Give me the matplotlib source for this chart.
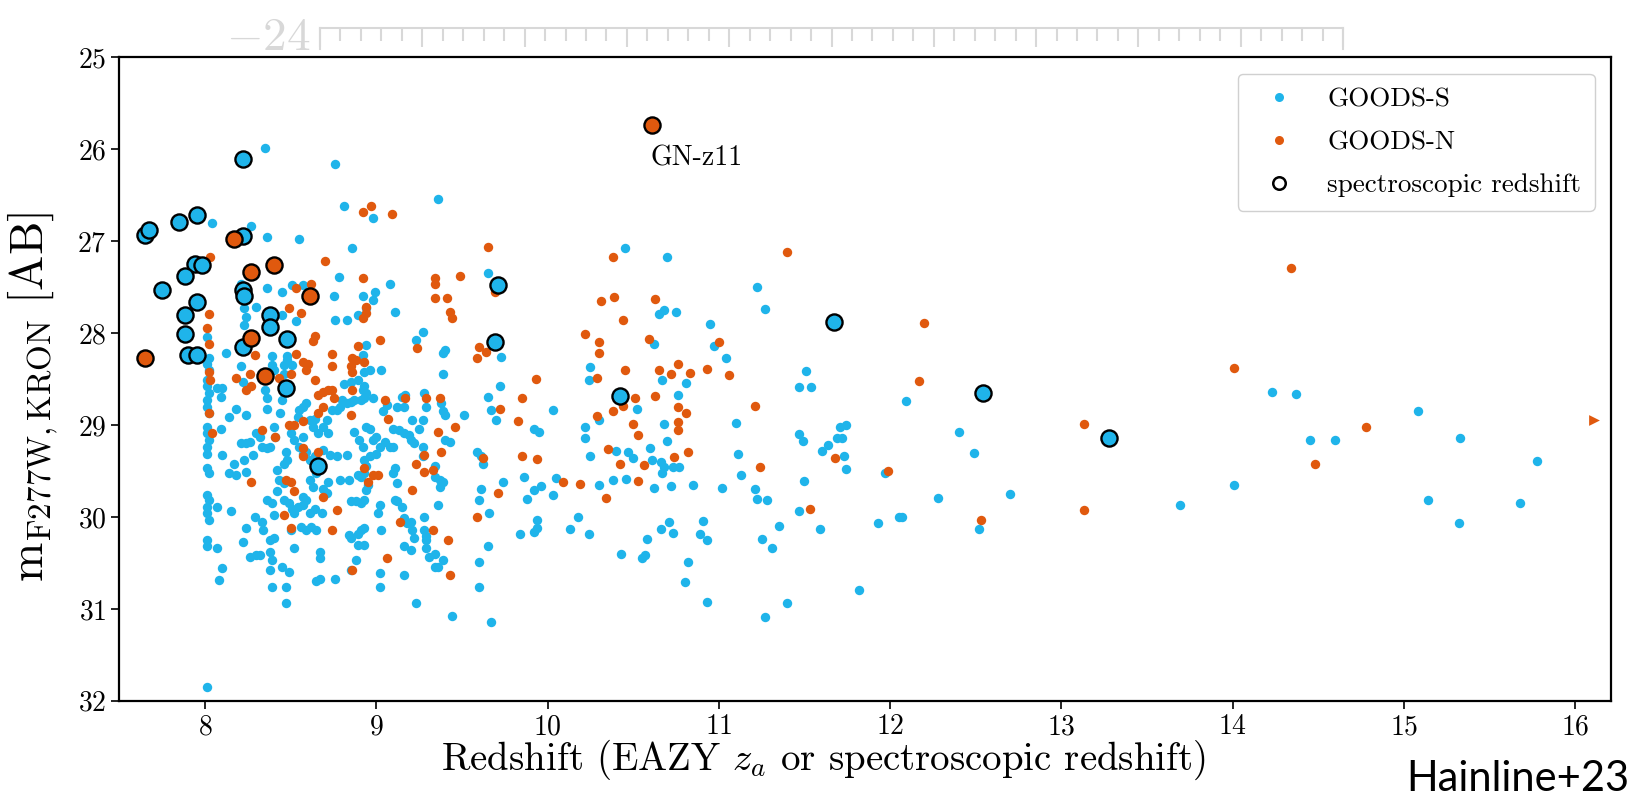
import matplotlib
matplotlib.use("Agg")
import matplotlib.pyplot as plt
from matplotlib.lines import Line2D
from matplotlib.ticker import MultipleLocator
import numpy as np

# (redshift, F277W Kron magnitude)
goods_s = [
    # bright part, m < 28.3
    (8.35, 25.98), (8.76, 26.16), (9.36, 26.54), (8.81, 26.62), (8.98, 26.75), (8.04, 26.80),
    (8.27, 26.83), (8.36, 26.95), (8.55, 26.97), (8.86, 27.07), (9.65, 27.34), (8.78, 27.39),
    (9.08, 27.46), (8.21, 27.46), (8.36, 27.51), (8.45, 27.55), (8.51, 27.48), (8.57, 27.48),
    (8.75, 27.60), (8.92, 27.60), (8.99, 27.55), (8.98, 27.64), (8.30, 27.71), (8.23, 27.73),
    (8.45, 27.80), (8.53, 27.87), (8.76, 27.86), (8.83, 27.86), (8.89, 27.80), (8.94, 27.73),
    (9.11, 27.77), (9.27, 27.99), (9.23, 28.07), (9.39, 28.22), (9.40, 28.18), (9.73, 28.26),
    (8.94, 28.13), (8.92, 28.24), (8.01, 28.04), (8.12, 28.22), (8.23, 27.91), (8.24, 27.82),
    (8.39, 28.25), (8.48, 28.25), (8.02, 28.27),
    # column near z = 8
    (8.01, 28.33), (8.02, 28.40), (8.01, 28.51), (8.01, 28.58), (8.02, 28.65), (8.01, 28.73),
    (8.01, 28.80), (8.02, 28.87), (8.01, 29.02), (8.01, 29.09), (8.02, 29.16), (8.01, 29.24),
    (8.01, 29.31), (8.01, 29.47), (8.02, 29.52), (8.01, 29.76), (8.02, 29.82), (8.01, 29.89),
    (8.01, 29.96), (8.02, 30.03), (8.01, 30.25), (8.01, 30.32), (8.01, 31.85),
    # z 8 - 9.8, m > 28.3
    (8.07, 28.60), (8.10, 28.60), (8.09, 28.69), (8.07, 29.89), (8.07, 30.34), (8.10, 30.56),
    (8.08, 30.69), (8.14, 28.91), (8.18, 28.82), (8.09, 29.04), (8.10, 29.33), (8.14, 29.52),
    (8.18, 29.54), (8.17, 29.42), (8.15, 29.94), (8.21, 28.36), (8.22, 28.53), (8.24, 28.89),
    (8.21, 29.20), (8.24, 29.20), (8.26, 29.18), (8.23, 29.38), (8.24, 29.51), (8.28, 29.33),
    (8.30, 29.09), (8.32, 29.13), (8.33, 29.24), (8.36, 29.25), (8.38, 29.24), (8.24, 30.12),
    (8.22, 30.27), (8.26, 30.43), (8.30, 30.41), (8.32, 30.41), (8.29, 30.00), (8.33, 30.05),
    (8.34, 30.14), (8.38, 30.25), (8.40, 30.23), (8.36, 29.82), (8.39, 29.85), (8.40, 29.98),
    (8.38, 30.38), (8.39, 30.47), (8.38, 30.58), (8.39, 30.76), (8.35, 28.62), (8.36, 28.82),
    (8.36, 28.71), (8.39, 28.35), (8.40, 28.40), (8.44, 28.87), (8.45, 28.73), (8.46, 28.65),
    (8.46, 28.35), (8.48, 28.29), (8.51, 28.35), (8.46, 28.44), (8.40, 29.02), (8.41, 29.13),
    (8.47, 29.29), (8.48, 29.38), (8.46, 29.42), (8.42, 29.49), (8.43, 29.60), (8.46, 29.63),
    (8.42, 29.72), (8.46, 29.82), (8.49, 29.85), (8.51, 29.91), (8.52, 29.96), (8.54, 29.89),
    (8.57, 29.87), (8.50, 30.14), (8.52, 30.34), (8.49, 30.60), (8.47, 30.76), (8.47, 30.94),
    (8.45, 30.54), (8.50, 29.09), (8.52, 29.16), (8.55, 29.24), (8.57, 29.31), (8.57, 29.13),
    (8.54, 28.91), (8.55, 28.84), (8.57, 28.80), (8.59, 28.76), (8.61, 28.94), (8.64, 28.93),
    (8.63, 29.02), (8.66, 29.09), (8.69, 29.02), (8.71, 28.94), (8.72, 29.09), (8.74, 28.84),
    (8.59, 29.29), (8.61, 29.38), (8.64, 29.34), (8.61, 29.60), (8.63, 29.67), (8.65, 29.52),
    (8.57, 29.78), (8.59, 29.82), (8.61, 29.96), (8.64, 29.91), (8.68, 29.96), (8.56, 30.11),
    (8.59, 30.14), (8.62, 30.11), (8.65, 30.14), (8.67, 30.38), (8.67, 30.45), (8.67, 30.67),
    (8.65, 30.70), (8.76, 30.67), (8.69, 29.69), (8.72, 29.62), (8.71, 29.74), (8.69, 29.27),
    (8.73, 29.33), (8.77, 29.34), (8.83, 29.33), (8.79, 29.60), (8.84, 29.60), (8.80, 28.73),
    (8.83, 28.76), (8.85, 28.75), (8.87, 28.73), (8.91, 28.73), (8.93, 28.71), (8.98, 28.71),
    (8.77, 28.84), (8.79, 28.80), (8.81, 28.55), (8.85, 28.53), (8.89, 28.51), (8.92, 28.62),
    (8.93, 28.58), (8.94, 28.65), (8.93, 28.42), (8.96, 28.40), (9.03, 28.40), (8.87, 29.07),
    (8.90, 29.16), (8.92, 29.24), (8.93, 29.38), (8.94, 29.45), (8.93, 29.52), (8.89, 29.54),
    (8.91, 29.56), (8.94, 29.02), (8.96, 29.04), (8.98, 29.16), (9.00, 29.13), (9.02, 29.24),
    (9.00, 29.31), (8.96, 29.34), (8.85, 29.83), (8.88, 29.83), (8.91, 29.85), (8.93, 29.82),
    (8.94, 29.71), (8.95, 29.65), (8.84, 30.20), (8.85, 30.23), (8.89, 30.18), (8.91, 30.14),
    (8.93, 30.12), (8.89, 30.30), (8.93, 30.30), (8.88, 30.47), (8.85, 30.58), (9.02, 29.87),
    (9.01, 29.96), (9.03, 30.14), (9.02, 30.61), (9.02, 30.76), (9.04, 28.85), (9.06, 28.78),
    (9.05, 29.18), (9.08, 29.24), (9.10, 29.24), (9.10, 29.04), (9.13, 29.05), (9.16, 29.09),
    (9.19, 29.11), (9.20, 29.16), (9.22, 29.20), (9.11, 29.47), (9.10, 29.52), (9.12, 29.63),
    (9.11, 29.82), (9.12, 29.83), (9.15, 29.89), (9.16, 30.01), (9.18, 30.07), (9.20, 30.05),
    (9.21, 30.14), (9.22, 30.23), (9.16, 30.32), (9.20, 30.36), (9.16, 30.63), (9.23, 30.94),
    (9.15, 28.69), (9.17, 28.67), (9.12, 28.80), (9.16, 28.80), (9.21, 28.94), (9.27, 28.94),
    (9.25, 29.04), (9.27, 29.24), (9.27, 29.34), (9.28, 28.65), (9.29, 28.80), (9.34, 29.45),
    (9.34, 29.56), (9.37, 29.60), (9.39, 29.62), (9.38, 28.76), (9.39, 28.85), (9.40, 28.89),
    (9.39, 28.44), (9.40, 29.16), (9.43, 29.18), (9.28, 30.00), (9.28, 30.14), (9.29, 30.21),
    (9.29, 30.25), (9.29, 30.34), (9.31, 30.43), (9.34, 30.40), (9.36, 30.54), (9.39, 30.47),
    (9.34, 30.54), (9.36, 29.87), (9.37, 29.67), (9.44, 31.08), (9.51, 28.89), (9.59, 29.29),
    (9.61, 29.34), (9.62, 29.42), (9.61, 29.69), (9.60, 29.82), (9.66, 29.96), (9.65, 28.69),
    (9.67, 28.84), (9.70, 28.94), (9.72, 28.58), (9.74, 29.62), (9.65, 30.32), (9.60, 30.49),
    (9.60, 30.76), (9.67, 31.14),
    # z 9.8 - 12
    (10.45, 27.07), (10.70, 27.17), (11.22, 27.50), (11.27, 27.74), (10.65, 27.79), (10.68, 27.75),
    (10.75, 27.77), (10.95, 27.90), (10.62, 28.12), (10.97, 28.14), (11.04, 28.27), (10.25, 28.37),
    (11.51, 28.41), (10.24, 28.51), (10.67, 28.51), (10.81, 28.54), (10.76, 28.67), (10.52, 28.83),
    (10.03, 28.84), (10.30, 28.94), (10.68, 28.99), (10.22, 29.02), (10.22, 29.14), (9.92, 29.04),
    (9.95, 29.07), (10.70, 29.17), (10.40, 29.28), (10.47, 29.29), (10.50, 29.36), (10.60, 29.25),
    (10.25, 29.34), (10.61, 29.38), (10.66, 29.40), (10.68, 29.46), (10.73, 29.46), (10.77, 29.46),
    (10.67, 29.52), (10.85, 29.65), (10.72, 29.66), (10.62, 29.68), (10.46, 29.59), (10.38, 29.60),
    (10.30, 29.65), (10.05, 29.58), (9.86, 29.57), (9.96, 29.66), (9.92, 29.71), (10.03, 29.76),
    (9.88, 29.80), (9.94, 30.03), (9.94, 30.12), (9.92, 30.16), (9.84, 30.18), (10.18, 30.00),
    (10.13, 30.13), (10.24, 30.18), (10.71, 30.05), (10.66, 30.13), (10.73, 30.17), (10.58, 30.24),
    (10.91, 30.04), (10.89, 30.18), (10.93, 30.25), (10.43, 30.40), (10.55, 30.45), (10.57, 30.41),
    (10.82, 30.49), (10.80, 30.71), (10.93, 30.93), (11.02, 29.68), (11.10, 28.98), (11.11, 29.31),
    (11.13, 29.54), (11.21, 29.70), (11.22, 29.80), (11.28, 29.81), (11.35, 30.10), (11.25, 30.24),
    (11.31, 30.34), (11.47, 28.59), (11.54, 28.59), (11.47, 29.10), (11.49, 29.17), (11.60, 29.28),
    (11.64, 29.22), (11.50, 29.61), (11.47, 29.93), (11.59, 30.13), (11.71, 29.02), (11.74, 29.00),
    (11.69, 29.14), (11.72, 29.14), (11.73, 29.34), (11.74, 29.48), (11.97, 29.52), (11.93, 30.07),
    (12.05, 30.00), (11.82, 30.79), (11.40, 30.94), (11.27, 31.09),
    # z > 12
    (12.09, 28.74), (12.40, 29.08), (12.49, 29.30), (12.28, 29.79), (12.70, 29.75), (12.07, 30.00),
    (12.52, 30.13), (13.69, 29.87), (14.01, 29.65), (14.23, 28.64), (14.37, 28.66), (14.45, 29.16),
    (14.60, 29.16), (15.08, 28.85), (15.33, 29.14), (15.78, 29.39), (15.14, 29.82), (15.32, 30.06),
    (15.68, 29.85),
]

goods_n = [
    (8.97, 26.62), (8.92, 26.68), (9.09, 26.70), (9.65, 27.06), (8.03, 27.17), (8.70, 27.22),
    (8.92, 27.40), (9.34, 27.40), (9.34, 27.46), (9.49, 27.38), (8.53, 27.51), (8.62, 27.47),
    (9.34, 27.62), (9.41, 27.62), (8.49, 27.73), (8.56, 27.78), (8.94, 27.71), (8.94, 27.78),
    (8.92, 27.84), (9.43, 27.77), (9.44, 27.84), (8.02, 27.79), (8.01, 27.94), (8.64, 28.03),
    (8.63, 28.09), (9.02, 28.07), (8.89, 28.14), (9.24, 28.16), (8.02, 28.12), (9.60, 28.15),
    (9.64, 28.20), (9.69, 27.55), (8.29, 28.24), (8.53, 28.23), (8.74, 28.23), (8.86, 28.27),
    (9.59, 28.27),
    (8.02, 28.42), (8.03, 28.51), (8.02, 28.87), (8.04, 29.09), (8.26, 28.44), (8.18, 28.49),
    (8.24, 28.62), (8.27, 28.58), (8.43, 28.49), (8.50, 28.44), (8.57, 28.31), (8.59, 28.40),
    (8.60, 28.33), (8.64, 28.51), (8.74, 28.36), (8.69, 28.64), (8.66, 28.67), (8.72, 28.62),
    (8.74, 28.62), (8.75, 28.71), (8.69, 28.80), (8.66, 28.87), (8.49, 29.00), (8.52, 29.00),
    (8.57, 28.96), (8.33, 29.05), (8.41, 29.13), (8.57, 29.25), (8.57, 29.34), (8.66, 29.29),
    (8.47, 29.60), (8.50, 29.62), (8.52, 29.72), (8.27, 29.62), (8.46, 29.98), (8.50, 30.12),
    (8.69, 29.78), (8.77, 29.92), (8.74, 30.14), (8.85, 28.36), (8.86, 28.42), (8.88, 28.29),
    (8.93, 28.31), (8.93, 29.47), (8.95, 29.62), (8.98, 29.54), (9.01, 29.54), (8.86, 28.62),
    (8.85, 28.89), (9.05, 28.73), (9.07, 28.93), (9.17, 28.71), (9.29, 28.71), (9.37, 28.71),
    (9.23, 29.42), (9.28, 29.33), (9.28, 29.51), (9.33, 29.49), (9.38, 29.29), (9.36, 29.07),
    (9.46, 29.02), (9.21, 29.71), (9.42, 30.25), (9.43, 30.63), (9.33, 30.14), (9.06, 30.45),
    (9.14, 30.05), (8.86, 30.58), (9.62, 29.36), (9.59, 30.00), (9.71, 29.74), (9.72, 28.82),
    (10.38, 27.17), (11.40, 27.12), (10.31, 27.65), (10.39, 27.61), (10.63, 27.63), (10.44, 27.86),
    (10.22, 28.01), (10.30, 28.10), (10.30, 28.22), (10.59, 28.06), (11.00, 28.10), (10.45, 28.40),
    (10.65, 28.40), (10.72, 28.44), (10.76, 28.33), (10.83, 28.43), (10.93, 28.39), (11.06, 28.45),
    (10.29, 28.49), (9.93, 28.50), (9.85, 28.71), (9.83, 28.96), (9.85, 29.34), (9.94, 29.37),
    (10.09, 29.62), (10.19, 29.64), (10.34, 29.79), (10.29, 28.90), (10.38, 28.85), (10.44, 28.79),
    (10.51, 28.71), (10.63, 28.68), (10.76, 28.80), (10.81, 28.87), (10.50, 28.99), (10.53, 29.11),
    (10.76, 28.97), (10.76, 29.05), (10.82, 29.29), (10.74, 29.35), (10.35, 29.26), (10.42, 29.42),
    (10.56, 29.43), (10.53, 29.61), (11.21, 28.79), (11.24, 29.46), (11.68, 29.36), (11.53, 29.91),
    (11.99, 29.50),
    (14.34, 27.29), (12.20, 27.89), (14.01, 28.38), (12.17, 28.52), (13.13, 28.99), (12.53, 30.03),
    (13.13, 29.92), (14.78, 29.02), (14.48, 29.42),
]
goods_n_beyond = [(16.11, 28.94)]  # drawn as an arrow at the plot edge

spec_s = [
    (7.65, 26.93), (7.67, 26.88), (7.85, 26.79), (7.95, 26.71), (8.22, 26.10), (8.22, 26.94),
    (7.94, 27.25), (7.98, 27.26), (7.88, 27.38), (7.75, 27.53), (8.22, 27.53), (8.23, 27.60),
    (9.71, 27.48), (7.95, 27.66), (7.88, 27.80), (8.38, 27.80), (8.38, 27.93), (8.48, 28.06),
    (7.88, 28.01), (8.22, 28.15), (9.69, 28.10), (7.90, 28.24), (7.95, 28.24), (8.47, 28.60),
    (8.66, 29.45), (10.42, 28.68), (11.675, 27.88), (12.54, 28.65), (13.28, 29.14),
]
spec_n = [
    (8.17, 26.97), (8.27, 27.33), (8.40, 27.26), (8.61, 27.60), (8.27, 28.05), (7.65, 28.27),
    (8.35, 28.47), (10.61, 25.73),
]

blue = "#1FB4EA"
orange = "#E0590E"

plt.rcParams["font.family"] = "cmr10"
plt.rcParams["mathtext.fontset"] = "cm"
plt.rcParams["axes.formatter.use_mathtext"] = True

fig = plt.figure(figsize=(16.48, 7.96), dpi=100)
ax = fig.add_axes([0.0725, 0.1196, 0.9051, 0.8082])

s_z, s_m = np.array(goods_s).T
n_z, n_m = np.array(goods_n).T
ax.scatter(s_z, s_m, s=46, color=blue, linewidths=0, zorder=2)
ax.scatter(n_z, n_m, s=46, color=orange, linewidths=0, zorder=3)
bz, bm = np.array(goods_n_beyond).T
ax.scatter(bz, bm, s=60, marker=">", color=orange, linewidths=0, zorder=3)

for pts, col in [(spec_s, blue), (spec_n, orange)]:
    z, m = np.array(pts).T
    ax.scatter(z, m, s=135, facecolor=col, edgecolor="black", linewidths=1.7, zorder=4)

ax.text(10.6, 26.1, "GN-z11", fontsize=20, ha="left", va="center")

ax.set_xlim(7.5, 16.21)
ax.set_ylim(32, 25)
ax.xaxis.set_major_locator(MultipleLocator(1))
ax.yaxis.set_major_locator(MultipleLocator(1))
ax.tick_params(labelsize=20, length=6, width=1.2, direction="out")
for sp in ax.spines.values():
    sp.set_linewidth(1.6)

ax.set_xlabel(r"Redshift (EAZY $z_a$ or spectroscopic redshift)", fontsize=28)
ax.set_ylabel(r"$\mathrm{m}_{\mathrm{F277W,KRON}}\ [\mathrm{AB}]$", fontsize=34)
ax.xaxis.set_label_coords(0.472, -0.057)
ax.yaxis.set_label_coords(-0.040, 0.472)

handles = [
    Line2D([], [], ls="none", marker="o", ms=6.5, mfc=blue, mec="none"),
    Line2D([], [], ls="none", marker="o", ms=6.5, mfc=orange, mec="none"),
    Line2D([], [], ls="none", marker="o", ms=9, mfc="white", mec="black", mew=1.8),
]
ax.legend(handles, ["GOODS-S", "GOODS-N", "spectroscopic redshift"], loc="upper right",
          fontsize=19.5, framealpha=1, edgecolor="#d0d0d0", borderaxespad=0.6,
          labelspacing=0.7, borderpad=0.5)

# faded strip of the panel above, cut off in the source image
strip = fig.add_axes([320 / 1648, 1 - 49 / 796, 1023 / 1648, 21 / 796])
strip.set_xlim(0, 10)
strip.set_ylim(0, 1)
strip.xaxis.set_major_locator(MultipleLocator(1))
strip.xaxis.set_minor_locator(MultipleLocator(0.2))
strip.tick_params(axis="x", which="both", top=True, bottom=False, labelbottom=False,
                  direction="in", color="#d8d8d8", width=1.5)
strip.tick_params(axis="x", which="major", length=14)
strip.tick_params(axis="x", which="minor", length=9)
strip.set_yticks([])
strip.spines["bottom"].set_visible(False)
for k in ["top", "left", "right"]:
    strip.spines[k].set_color("#d8d8d8")
    strip.spines[k].set_linewidth(1.5)
strip.patch.set_alpha(0)
fig.text(226 / 1648, 1 - 50 / 796, r"$-24$", fontsize=34, color="#d8d8d8", ha="left", va="baseline")

fig.text(1406 / 1648, 1 - 779 / 796, "Hainline+23", family=["Lato", "DejaVu Sans"],
         fontsize=30, ha="left", va="center")

fig.savefig("out.png", dpi=100)
